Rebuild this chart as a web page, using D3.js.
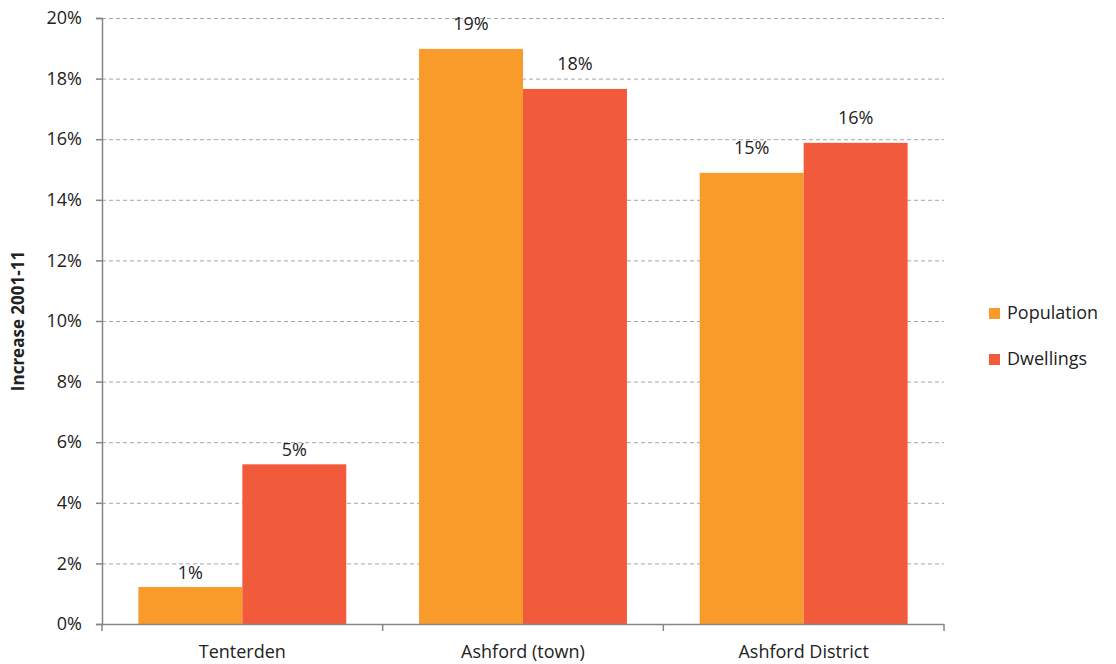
<!DOCTYPE html>
<html>
<head>
<meta charset="utf-8">
<script src="https://cdn.jsdelivr.net/npm/d3@7"></script>
<style>
  body { margin: 0; background: #fff; }
  text { font-family: "Open Sans", "Noto Sans", sans-serif; fill: #222; }
</style>
</head>
<body>
<div id="chart"></div>
<script>
// data
var categories = ["Tenterden", "Ashford (town)", "Ashford District"];
var seriesNames = ["Population", "Dwellings"];
var population = [1.22, 18.98, 14.89];
var dwellings = [5.27, 17.66, 15.88];
var yTicks = [0, 2, 4, 6, 8, 10, 12, 14, 16, 18, 20];

var colors = {"Population": "#f99b2a", "Dwellings": "#f15b3c"};

var W = 1116, H = 664;
var margin = {top: 18, left: 102, right: 172, bottom: 40};
var w = W - margin.left - margin.right;
var h = H - margin.top - margin.bottom;

var svg = d3.select("#chart").append("svg")
  .attr("width", W)
  .attr("height", H);

var g = svg.append("g")
  .attr("transform", "translate(" + margin.left + "," + margin.top + ")");

var x0 = d3.scaleBand().domain(categories).range([0, w]);
var x1 = d3.scaleBand().domain(seriesNames)
  .range([0, x0.bandwidth()])
  .paddingOuter(0.35);
var y = d3.scaleLinear().domain([0, 20]).range([h, 0]);

// dashed gridlines
g.selectAll(".grid")
  .data(yTicks.filter(function(d) { return d > 0; }))
  .enter().append("line")
  .attr("x1", 0).attr("x2", w)
  .attr("y1", function(d) { return y(d) + 0.5; })
  .attr("y2", function(d) { return y(d) + 0.5; })
  .attr("stroke", "#a6a6a6")
  .attr("stroke-dasharray", "4,3");

// y axis
var yAxis = d3.axisLeft(y)
  .tickValues(yTicks)
  .tickSize(6)
  .tickPadding(14)
  .tickFormat(function(d) { return d + "%"; });

var ya = g.append("g").call(yAxis);
ya.select(".domain").attr("stroke", "#868686").attr("stroke-width", 1.5);
ya.selectAll(".tick line").attr("stroke", "#868686").attr("stroke-width", 1.5);
ya.selectAll(".tick text")
  .style("font-size", "18px")
  .style("font-family", "'Open Sans', sans-serif")
  .attr("fill", "#222");

// bars
var rows = categories.map(function(c, i) {
  return {cat: c, vals: [
    {name: "Population", v: population[i]},
    {name: "Dwellings", v: dwellings[i]}
  ]};
});

var grp = g.selectAll(".cat")
  .data(rows)
  .enter().append("g")
  .attr("transform", function(d) { return "translate(" + x0(d.cat) + ",0)"; });

grp.selectAll("rect")
  .data(function(d) { return d.vals; })
  .enter().append("rect")
  .attr("x", function(d) { return x1(d.name); })
  .attr("width", x1.bandwidth())
  .attr("y", function(d) { return y(d.v); })
  .attr("height", function(d) { return h - y(d.v); })
  .attr("fill", function(d) { return colors[d.name]; });

grp.selectAll(".lbl")
  .data(function(d) { return d.vals; })
  .enter().append("text")
  .attr("x", function(d) { return x1(d.name) + x1.bandwidth() / 2; })
  .attr("y", function(d) { return y(d.v) - (d.v < 10 ? 8 : 19); })
  .attr("text-anchor", "middle")
  .style("font-size", "18px")
  .text(function(d) { return Math.round(d.v) + "%"; });

// x axis with ticks at category boundaries
var xa = g.append("g").attr("transform", "translate(0," + h + ")");
xa.append("line")
  .attr("x1", 0).attr("x2", w)
  .attr("y1", 0.5).attr("y2", 0.5)
  .attr("stroke", "#868686").attr("stroke-width", 1.5);
var bounds = categories.map(function(c) { return x0(c); }).concat([w]);
xa.selectAll(".xt")
  .data(bounds)
  .enter().append("line")
  .attr("x1", function(d) { return d; })
  .attr("x2", function(d) { return d; })
  .attr("y1", 0).attr("y2", 7)
  .attr("stroke", "#868686").attr("stroke-width", 1.5);
xa.selectAll(".xl")
  .data(categories)
  .enter().append("text")
  .attr("x", function(d) { return x0(d) + x0.bandwidth() / 2; })
  .attr("y", 34)
  .attr("text-anchor", "middle")
  .style("font-size", "18px")
  .text(function(d) { return d; });

// y axis title
svg.append("text")
  .attr("transform", "translate(24," + (margin.top + h / 2) + ") rotate(-90)")
  .attr("text-anchor", "middle")
  .style("font-size", "17px")
  .style("font-weight", "bold")
  .text("Increase 2001-11");

// legend
var legend = svg.append("g").attr("transform", "translate(989,302)");
var li = legend.selectAll(".li")
  .data(seriesNames)
  .enter().append("g")
  .attr("transform", function(d, i) { return "translate(0," + i * 46 + ")"; });
li.append("rect")
  .attr("x", 0).attr("y", 6)
  .attr("width", 11).attr("height", 11)
  .attr("fill", function(d) { return colors[d]; });
li.append("text")
  .attr("x", 18).attr("y", 17)
  .style("font-size", "18px")
  .text(function(d) { return d; });
</script>
</body>
</html>
